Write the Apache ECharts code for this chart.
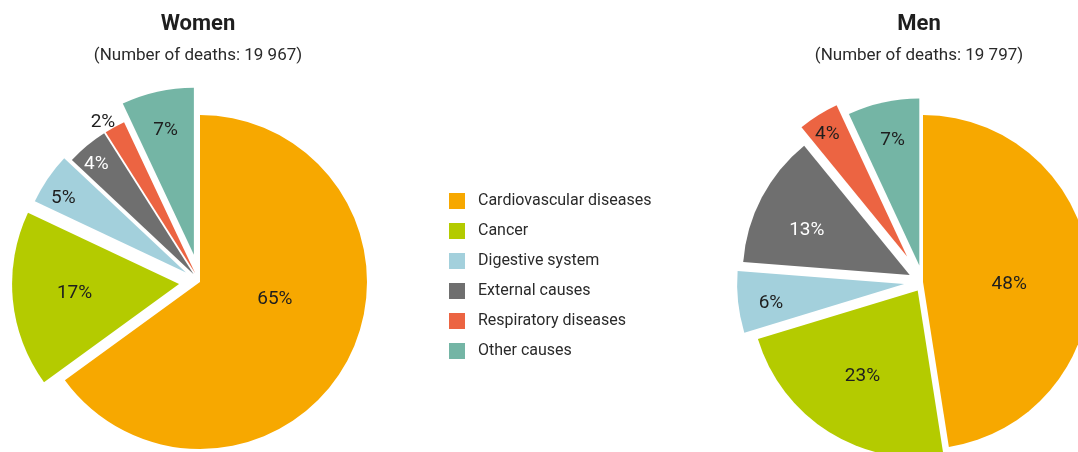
<!DOCTYPE html>
<html>
<head>
<meta charset="utf-8">
<script src="https://cdn.jsdelivr.net/npm/echarts@6/dist/echarts.min.js"></script>
<style>
  html, body { margin: 0; padding: 0; background: #fff; }
  #chart { width: 1078px; height: 452px; }
</style>
</head>
<body>
<div id="chart"></div>
<script>
// ---- Data ----
const categories = ['Cardiovascular diseases', 'Cancer', 'Digestive system', 'External causes', 'Respiratory diseases', 'Other causes'];
const womenShares = [65, 17, 5, 4, 2, 7];
const menShares = [48, 23, 6, 13, 4, 7];
const womenDeaths = '19 967';
const menDeaths = '19 797';
const groupTitles = ['Women', 'Men'];

// ---- Styles / layout ----
const colors = ['#F7A800', '#B4CB00', '#A3D0DC', '#6F6F6F', '#EC6442', '#74B5A5'];
const labelColors = ['#1e1e1e', '#1e1e1e', '#1e1e1e', '#ffffff', '#1e1e1e', '#1e1e1e'];
const FONT = 'Roboto, "Noto Sans", sans-serif';
const R = 167;

const womenLayout = {
  center: [200, 282],
  offsets: [0, 21, 17, 10, 10, 28],
  labelRadius: [81, 103, 144, 148, 178, 131],
  labelDx: [0, 1, -1, -1, -5, 1],
  labelDy: [-21, -1, 8, 6, 8, 6],
  outsideLabel: [false, false, false, false, true, false]
};
const menLayout = {
  center: [923, 282],
  offsets: [0, 10, 19, 15, 30, 17],
  labelRadius: [83.5, 101, 135, 112, 147, 130],
  labelDx: [0, 0, 4, -1, 0, 2],
  labelDy: [9, -2, 4, 9, 5, 5],
  outsideLabel: [false, false, false, false, false, false]
};

function pieSeries(shares, layout) {
  const out = [];
  shares.forEach((_, i) => {
    // visible slice i
    out.push({
      type: 'pie',
      center: layout.center,
      radius: [0, R],
      startAngle: 90,
      clockwise: true,
      selectedMode: 'multiple',
      selectedOffset: layout.offsets[i],
      avoidLabelOverlap: false,
      silent: true,
      animation: false,
      emphasis: { disabled: true },
      label: { show: false },
      labelLine: { show: false },
      z: 2,
      data: shares.map((v, j) => ({
        name: categories[j],
        value: v,
        selected: j === i && layout.offsets[i] > 0,
        itemStyle: { color: j === i ? colors[j] : 'transparent', borderWidth: 0 }
      }))
    });
    // label for slice i
    const lr = layout.labelRadius[i];
    out.push({
      type: 'pie',
      center: layout.center,
      radius: [lr - 1, lr + 1],
      startAngle: 90,
      clockwise: true,
      selectedMode: 'multiple',
      selectedOffset: layout.offsets[i],
      avoidLabelOverlap: false,
      silent: true,
      animation: false,
      emphasis: { disabled: true },
      labelLine: { show: false },
      labelLayout: { dx: layout.labelDx[i], dy: layout.labelDy[i] },
      z: 5,
      data: shares.map((v, j) => ({
        name: categories[j],
        value: v,
        selected: j === i && layout.offsets[i] > 0,
        itemStyle: { color: 'transparent', borderWidth: 0 },
        label: j === i ? {
          show: true,
          position: 'inside',
          formatter: '{c}%',
          color: layout.outsideLabel[i] ? '#1e1e1e' : labelColors[j],
          fontFamily: FONT,
          fontSize: 19
        } : { show: false }
      }))
    });
  });
  return out;
}

const chart = echarts.init(document.getElementById('chart'), null, { renderer: 'canvas' });
chart.setOption({
  backgroundColor: '#ffffff',
  animation: false,
  title: [
    {
      text: groupTitles[0],
      subtext: '(Number of deaths: ' + womenDeaths + ')',
      left: 198, top: 12, textAlign: 'center', padding: 0, itemGap: 10,
      textStyle: { fontFamily: FONT, fontSize: 22, fontWeight: 'bold', color: '#1e1e1e', lineHeight: 24 },
      subtextStyle: { fontFamily: FONT, fontSize: 17, color: '#2a2a2a', lineHeight: 20 }
    },
    {
      text: groupTitles[1],
      subtext: '(Number of deaths: ' + menDeaths + ')',
      left: 919, top: 12, textAlign: 'center', padding: 0, itemGap: 10,
      textStyle: { fontFamily: FONT, fontSize: 22, fontWeight: 'bold', color: '#1e1e1e', lineHeight: 24 },
      subtextStyle: { fontFamily: FONT, fontSize: 17, color: '#2a2a2a', lineHeight: 20 }
    }
  ],
  legend: {
    orient: 'vertical',
    left: 449,
    top: 193,
    padding: 0,
    itemWidth: 16,
    itemHeight: 16,
    itemGap: 14,
    icon: 'rect',
    selectedMode: false,
    textStyle: { fontFamily: FONT, fontSize: 16, color: '#2a2a2a', padding: [0, 0, 0, 8] },
    data: categories.map((c, j) => ({ name: c, itemStyle: { color: colors[j], borderWidth: 0 } }))
  },
  series: [].concat(pieSeries(womenShares, womenLayout), pieSeries(menShares, menLayout))
});
</script>
</body>
</html>
